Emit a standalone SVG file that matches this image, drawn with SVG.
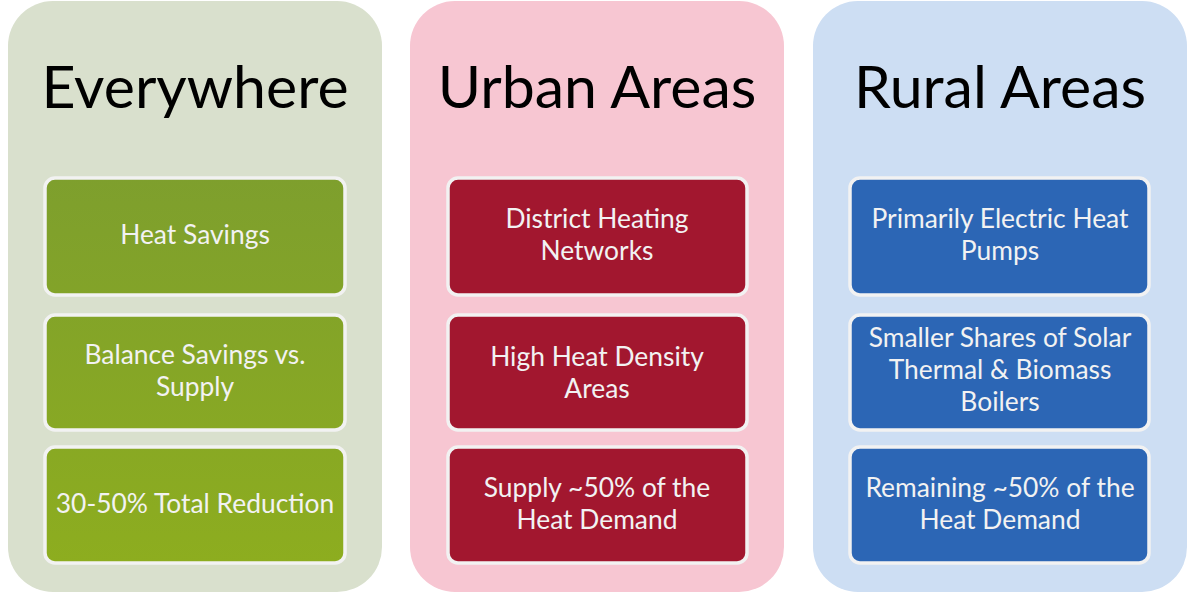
<svg xmlns="http://www.w3.org/2000/svg" width="1189" height="593" viewBox="0 0 1189 593">
<defs>
<linearGradient id="gGreen" gradientUnits="userSpaceOnUse" x1="0" y1="178" x2="0" y2="563">
<stop offset="0" stop-color="#7e9f2d"/>
<stop offset="1" stop-color="#8dad1f"/>
</linearGradient>
<style>
.panel{stroke:none}
.box{stroke:#f2f2f2;stroke-width:3.5}
.title{font-family:Lato,"Liberation Sans",sans-serif;font-size:59px;fill:#000;text-anchor:middle}
.lbl{font-family:Lato,"Liberation Sans",sans-serif;font-size:26.4px;fill:#f2f2f2;text-anchor:middle}
</style>
</defs>
<rect width="1189" height="593" fill="#ffffff"/>
<g id="everywhere">
<rect class="panel" x="8" y="1" width="374" height="591" rx="45" fill="#d9e0cd"/>
<text class="title" x="195" y="108">Everywhere</text>
</g>
<g id="urban">
<rect class="panel" x="410" y="1" width="374" height="591" rx="45" fill="#f7c6d2"/>
<text class="title" x="597" y="108">Urban Areas</text>
</g>
<g id="rural">
<rect class="panel" x="813" y="1" width="374" height="591" rx="45" fill="#cddef3"/>
<text class="title" x="1000" y="108">Rural Areas</text>
</g>
<g id="heat-savings">
<rect class="box" x="45" y="178" width="300" height="117" rx="10" fill="url(#gGreen)"/>
<text class="lbl" x="195" y="244">Heat Savings</text>
</g>
<g id="balance">
<rect class="box" x="45" y="315" width="300" height="115" rx="10" fill="url(#gGreen)"/>
<text class="lbl" x="195" y="364">Balance Savings vs.</text>
<text class="lbl" x="195" y="396">Supply</text>
</g>
<g id="reduction">
<rect class="box" x="45" y="447" width="300" height="116" rx="10" fill="url(#gGreen)"/>
<text class="lbl" x="195" y="513">30-50% Total Reduction</text>
</g>
<g id="district">
<rect class="box" x="448" y="178" width="299" height="117" rx="10" fill="#a2172f"/>
<text class="lbl" x="597" y="228">District Heating</text>
<text class="lbl" x="597" y="260">Networks</text>
</g>
<g id="density">
<rect class="box" x="448" y="315" width="299" height="115" rx="10" fill="#a2172f"/>
<text class="lbl" x="597" y="366">High Heat Density</text>
<text class="lbl" x="597" y="398">Areas</text>
</g>
<g id="supply">
<rect class="box" x="448" y="447" width="299" height="116" rx="10" fill="#a2172f"/>
<text class="lbl" x="597" y="497">Supply ~50% of the</text>
<text class="lbl" x="597" y="529">Heat Demand</text>
</g>
<g id="pumps">
<rect class="box" x="850" y="178" width="299" height="117" rx="10" fill="#2c66b5"/>
<text class="lbl" x="1000" y="228">Primarily Electric Heat</text>
<text class="lbl" x="1000" y="260">Pumps</text>
</g>
<g id="solar">
<rect class="box" x="850" y="315" width="299" height="115" rx="10" fill="#2c66b5"/>
<text class="lbl" x="1000" y="347">Smaller Shares of Solar</text>
<text class="lbl" x="1000" y="379">Thermal &amp; Biomass</text>
<text class="lbl" x="1000" y="411">Boilers</text>
</g>
<g id="remaining">
<rect class="box" x="850" y="447" width="299" height="116" rx="10" fill="#2c66b5"/>
<text class="lbl" x="1000" y="497">Remaining ~50% of the</text>
<text class="lbl" x="1000" y="529">Heat Demand</text>
</g>
<g id="connectors"/>
</svg>
